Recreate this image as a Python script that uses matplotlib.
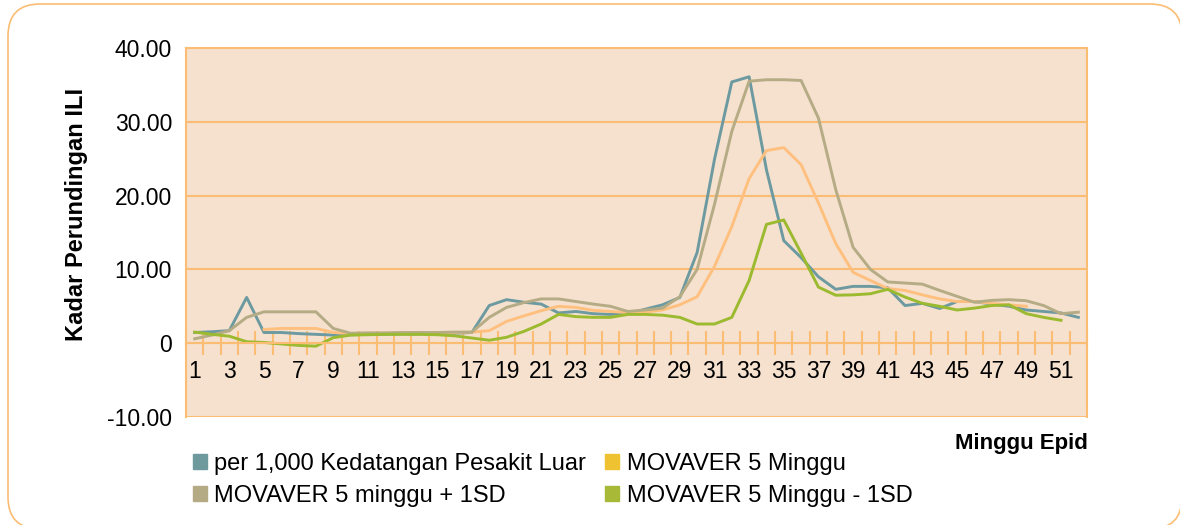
import numpy as np
import matplotlib.pyplot as plt
from matplotlib.patches import FancyBboxPatch, Patch
from matplotlib.transforms import IdentityTransform

plt.rcParams['font.family'] = ['Liberation Sans', 'DejaVu Sans']

weeks = np.arange(1, 53)

kadar = [1.45, 1.55, 1.7, 6.2, 1.45, 1.45, 1.3, 1.2, 1.1, 1.15,
         1.2, 1.2, 1.25, 1.25, 1.3, 1.35, 1.45, 5.1, 5.9, 5.55,
         5.3, 4.1, 4.3, 4.0, 3.9, 4.0, 4.6, 5.2, 6.2, 12.3,
         24.9, 35.4, 36.1, 23.5, 13.9, 11.6, 9.0, 7.3, 7.7, 7.7,
         7.5, 5.1, 5.4, 4.7, 5.65, 5.65, 5.3, 5.0, 4.5, 4.3,
         4.1, 3.5]

# 5-week moving average, weeks 5..49
ma_weeks = np.arange(5, 50)
movaver = [1.85, 2.0, 2.0, 2.0, 1.45, 1.3, 1.35, 1.35, 1.35, 1.4,
           1.4, 1.45, 1.5, 1.7, 2.95, 3.7, 4.4, 5.0, 4.85, 4.45,
           4.3, 4.15, 4.2, 4.5, 5.2, 6.3, 10.4, 15.8, 22.3, 26.1,
           26.5, 24.2, 19.0, 13.5, 9.6, 8.5, 7.4, 7.15, 6.55, 6.0,
           5.65, 5.65, 5.4, 5.2, 5.0]

plus_sd = [0.6, 1.1, 1.7, 3.5, 4.25, 4.25, 4.25, 4.25, 2.0, 1.35,
           1.4, 1.4, 1.45, 1.45, 1.45, 1.5, 1.5, 3.5, 4.85, 5.5,
           6.0, 6.0, 5.65, 5.3, 5.0, 4.3, 4.5, 4.75, 6.3, 10.0,
           18.8, 28.7, 35.5, 35.7, 35.7, 35.6, 30.5, 20.8, 13.0, 10.0,
           8.3, 8.15, 8.0, 7.15, 6.35, 5.55, 5.8, 5.9, 5.75, 5.1,
           4.0, 4.2]

minus_weeks = np.arange(1, 52)
minus_sd = [1.5, 1.2, 0.95, 0.2, 0.1, -0.1, -0.3, -0.4, 0.75, 1.1,
            1.15, 1.2, 1.2, 1.2, 1.15, 1.0, 0.7, 0.4, 0.8, 1.6,
            2.6, 3.9, 3.6, 3.5, 3.5, 3.9, 3.9, 3.8, 3.5, 2.6,
            2.6, 3.5, 8.5, 16.1, 16.7, 12.2, 7.6, 6.5, 6.55, 6.7,
            7.3, 6.25, 5.4, 5.0, 4.5, 4.75, 5.1, 5.2, 4.0, 3.5,
            3.1]

labels = ['per 1,000 Kedatangan Pesakit Luar', 'MOVAVER 5 Minggu',
          'MOVAVER 5 minggu + 1SD', 'MOVAVER 5 Minggu - 1SD']

orange = '#FBBD74'
c_teal = '#6C9AA0'
c_ma = '#FFC07F'
c_beige = '#B5AC86'
c_green = '#9CBA2F'

fig = plt.figure(figsize=(11.8, 5.25), dpi=100)
frame = FancyBboxPatch((8, -4), 1174, 525, boxstyle='round,pad=0,rounding_size=32',
                       transform=IdentityTransform(), fc='white', ec=orange, lw=1.2,
                       zorder=-5)
fig.patches.append(frame)

ax = fig.add_axes([186 / 1180, 1 - 417 / 525, (1087 - 186) / 1180, (417 - 48) / 525])
ax.set_facecolor('#F5E1CE')

ax.plot(weeks, kadar, color=c_teal, lw=2.1)
ax.plot(ma_weeks, movaver, color=c_ma, lw=2.1)
ax.plot(weeks, plus_sd, color=c_beige, lw=2.1)
ax.plot(minus_weeks, minus_sd, color=c_green, lw=2.1)

ax.set_xlim(0.5, 52.5)
ax.set_ylim(-10, 40)
ax.set_yticks(np.arange(-10, 41, 10))
ax.set_yticklabels(['-10.00', '0', '10.00', '20.00', '30.00', '40.00'])
ax.yaxis.grid(True, color=orange, lw=1.5)
ax.set_axisbelow(True)
ax.tick_params(axis='y', length=0, labelsize=16.5, pad=10)

ax.spines['bottom'].set_position(('data', 0))
for s in ax.spines.values():
    s.set_color(orange)
    s.set_linewidth(1.5)
ax.set_xticks(np.arange(1, 53, 2))
ax.set_xticklabels([str(w) for w in range(1, 53, 2)])
ax.set_xticks(np.arange(0.5, 53, 1), minor=True)
ax.tick_params(axis='x', which='major', length=0, labelsize=16.5, pad=12)
ax.tick_params(axis='x', which='minor', direction='inout', length=17, width=1.5, color=orange)

ax.set_ylabel('Kadar Perundingan ILI', fontsize=17, fontweight='bold')
ax.yaxis.set_label_coords(-98 / 901, 0.55)

fig.text(1088 / 1180, 1 - 443 / 525, 'Minggu Epid', fontsize=16, fontweight='bold',
         ha='right', va='center')

handles = [Patch(color='#6E9A9E'), Patch(color='#B4AB85'),
           Patch(color='#EFC231'), Patch(color='#A8B837')]
fig.legend(handles, [labels[0], labels[2], labels[1], labels[3]], ncol=2,
           loc='upper left', bbox_to_anchor=(172 / 1180, 1 - 432 / 525),
           frameon=False, fontsize=17, handlelength=0.6, handleheight=0.6,
           handletextpad=0.3, columnspacing=0.8, labelspacing=0.4)

fig.savefig('out.png', dpi=100)
